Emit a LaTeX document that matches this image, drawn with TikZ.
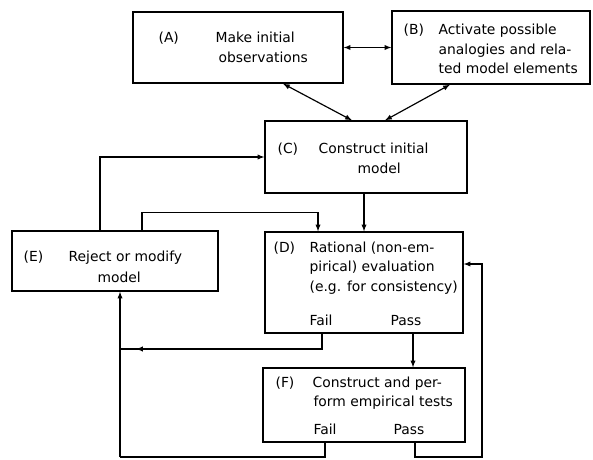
\documentclass[tikz,border=0pt]{standalone}
\usepackage{fontspec}
\setmainfont{DejaVu Sans}
\usetikzlibrary{positioning,fit,calc,arrows}

\begin{document}
\begin{tikzpicture}[x=0.85pt,y=-0.85pt,line width=1pt,>=latex,
	box/.style={draw,line width=1.1pt,inner sep=0pt},
	txt/.style={inner sep=0pt,anchor=base west,font=\fontsize{11.8}{15}\selectfont}]

\useasboundingbox (0,0) rectangle (593,460);

\foreach \n/\xa/\ya/\xb/\yb in {A/133/12/343/83,B/392/11/590/84,C/265/121/467/193,D/265/232/463/333,E/12/231/218/291,F/263/368/465/442}{
	\node[box,fit={(\xa,\ya)(\xb,\yb)}](\n){};
}

\foreach[count=\c] \x/\y/\t in {158/43/(A),215/43/Make initial,218/63/observations,
	403/35/(B),438/35/Activate possible,438/55/analogies and rela-,438/74/ted model elements,
	277/153/(C),318/153/Construct initial,357/173/model,
	273/252/(D),309/252/Rational (non-em-,309/271/pirical) evaluation,309/291/(e.g. for consistency),309/325/Fail,390/325/Pass,
	23/261/(E),68/261/Reject or modify,97/282/model,
	275/387/(F),312/387/Construct and per-,313/406/form empirical tests,313/434/Fail,393/434/Pass}{
	\node[txt](t\c) at (\x,\y) {\t};
}

\coordinate (j1) at (136,349);
\coordinate (j2) at (120,457);
\coordinate (j3) at (482,457);

\draw[<->] (A) -- (B);
\draw[<->] (A.south -| 283,0) -- (C.north -| 352,0);
\draw[<->] (B.south -| 450,0) -- (C.north -| 385,0);
\draw[->] (C.south -| 364,0) -- (D.north -| 364,0);
\draw[->] (E.north -| 100,0) |- (C);
\draw[->] (E.north -| 142,0) -- ++(0,-18) -| (D.north -| 318,0);
\draw (D.south -| 322,0) |- (j1 -| j2);
\draw[->] (D.south -| 322,0) |- (j1);
\draw (F.south -| 325,0) |- (j2);
\draw[->] (j2) -- (E.south -| j2);
\draw[->] (D.south -| 413,0) -- (F.north -| 413,0);
\draw[->] (F.south -| 415,0) |- (j3) |- (D.east |- 0,264);
\end{tikzpicture}
\end{document}
